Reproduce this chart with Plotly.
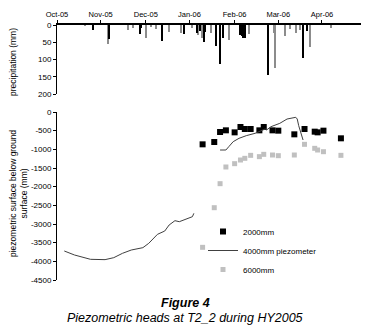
import plotly.graph_objects as go

# ---------------- data ----------------
# precipitation (mm), two gauges (black / grey bars)
precip_black_dates = ["2005-10-26", "2005-11-06", "2005-11-27", "2005-11-28", "2005-12-12",
                      "2005-12-27", "2006-01-05", "2006-01-07", "2006-01-10", "2006-01-11",
                      "2006-01-18", "2006-01-21", "2006-01-23", "2006-02-04", "2006-02-05",
                      "2006-02-06", "2006-02-07", "2006-02-23", "2006-03-19", "2006-03-22"]
precip_black_mm = [15, 41, 25, 8, 46, 27, 22, 17, 48, 19, 61, 114, 37, 29, 32, 37, 38, 144, 96, 17]

precip_grey_dates = ["2005-10-20", "2005-11-05", "2005-11-19", "2005-11-22", "2005-12-01",
                     "2005-12-05", "2005-12-08", "2005-12-17", "2005-12-25", "2006-01-02",
                     "2006-01-06", "2006-01-09", "2006-01-15", "2006-01-27", "2006-02-10",
                     "2006-02-27", "2006-02-28", "2006-03-07", "2006-03-10", "2006-03-14",
                     "2006-03-17", "2006-03-24", "2006-04-07"]
precip_grey_mm = [2, 54, 15, 9, 38, 4, 12, 19, 22, 8, 29, 37, 22, 44, 27, 22, 125, 32, 12, 22, 15, 65, 8]

# 4000mm piezometer (continuous logger, with a gap)
piezo_dates = ["2005-10-06", "2005-10-13", "2005-10-24", "2005-11-03", "2005-11-09", "2005-11-15",
               "2005-11-21", "2005-11-29", "2005-12-03", "2005-12-09", "2005-12-14", "2005-12-17",
               "2005-12-21", "2005-12-24", "2006-01-02", "2006-01-03", "2006-01-12",
               "2006-01-21", "2006-01-25", "2006-01-27", "2006-01-30", "2006-02-03", "2006-02-08",
               "2006-02-14", "2006-02-17", "2006-02-21", "2006-02-22", "2006-02-25", "2006-03-03",
               "2006-03-08", "2006-03-14", "2006-03-15", "2006-03-16", "2006-03-17", "2006-03-18",
               "2006-03-19"]
piezo_4000 = [-3723, -3830, -3946, -3955, -3902, -3785,
              -3697, -3634, -3518, -3277, -3188, -3027,
              -2911, -2938, -2804, -2714, None,
              -1018, -1018, -929, -795, -705, -634,
              -571, -527, -455, -480, -393, -304,
              -188, -142, -188, -366, -482, -616,
              -750]

# manual dip readings (2000mm and 6000mm)
dip_dates = ["2006-01-09", "2006-01-17", "2006-01-21", "2006-01-25", "2006-01-31", "2006-02-04",
             "2006-02-07", "2006-02-11", "2006-02-17", "2006-02-20", "2006-02-26", "2006-03-02",
             "2006-03-13", "2006-03-20", "2006-03-27", "2006-03-29", "2006-04-02", "2006-04-14"]
dip_2000 = [-866, -804, -536, -491, -545, -402, -455, -455, -491, -402, -491, -500,
            -598, -455, -527, -545, -500, -705]
dip_6000 = [-3625, -2563, -1920, -1473, -1384, -1286, -1241, -1161, -1196, -1134, -1152, -1170,
            -1152, -866, -973, -1018, -1063, -1161]

x_tick_dates = ["2005-10-01", "2005-10-31", "2005-12-01", "2005-12-31", "2006-01-31", "2006-03-02", "2006-04-01"]
x_tick_labels = ["Oct-05", "Nov-05", "Dec-05", "Jan-06", "Feb-06", "Mar-06", "Apr-06"]
precip_ticks = [0, 50, 100, 150, 200]
head_ticks = [0, -500, -1000, -1500, -2000, -2500, -3000, -3500, -4000, -4500]
head_tick_labels = ["0", "-500", "-1000", "-1500", "-2000", "-2500", "-3000", "-3500", "-4000", "-4500"]

# ---------------- figure ----------------
OFF = 8                      # default page margin around the plot div
W, H = 369 - OFF, 329 - OFF
FONT = "Liberation Sans, Arial, sans-serif"
DAY_MS = 86400000

def py(p):  # window pixel row -> paper y
    return 1 - (p - OFF) / H

def px(p):  # window pixel column -> paper x
    return (p - OFF) / W

fig = go.Figure()

fig.add_trace(go.Bar(x=precip_grey_dates, y=precip_grey_mm, marker=dict(color="#8c8c8c", line=dict(width=0)),
                     width=0.9 * DAY_MS, xaxis="x", yaxis="y", showlegend=False))
fig.add_trace(go.Bar(x=precip_black_dates, y=precip_black_mm, marker=dict(color="#000000", line=dict(width=0)),
                     width=0.9 * DAY_MS, xaxis="x", yaxis="y", showlegend=False))

fig.add_trace(go.Scatter(x=dip_dates, y=dip_2000, mode="markers", name="2000mm",
                         marker=dict(symbol="square", size=6, color="#000000"),
                         xaxis="x2", yaxis="y2"))
fig.add_trace(go.Scatter(x=piezo_dates, y=piezo_4000, mode="lines", name="4000mm piezometer",
                         line=dict(color="#404040", width=1), connectgaps=False,
                         xaxis="x2", yaxis="y2"))
fig.add_trace(go.Scatter(x=dip_dates, y=dip_6000, mode="markers", name="6000mm",
                         marker=dict(symbol="square", size=5, color="#c0c0c0"),
                         xaxis="x2", yaxis="y2"))

xdom = [px(57), px(361)]
xrange = ["2005-10-01", "2006-04-27 19:00"]

ann = dict(xref="paper", yref="paper", showarrow=False, xanchor="center", yanchor="middle")

fig.update_layout(
    template="none",
    width=W, height=H,
    margin=dict(l=0, r=0, t=0, b=0, pad=0, autoexpand=False),
    paper_bgcolor="white", plot_bgcolor="white",
    font=dict(family=FONT, size=8, color="black"),
    barmode="overlay", bargap=0,
    xaxis=dict(domain=xdom, range=xrange, type="date", side="top", anchor="y", automargin=False,
               showline=True, linewidth=2, linecolor="black", showgrid=False, zeroline=False,
               tickmode="array", tickvals=x_tick_dates, ticktext=x_tick_labels,
               ticks="outside", ticklen=3, tickcolor="black", tickwidth=1,
               tickfont=dict(size=7.5)),
    yaxis=dict(domain=[py(94), py(25)], range=[200, 0], anchor="x", automargin=False,
               showline=True, linewidth=1, linecolor="black", showgrid=False, zeroline=False,
               tickmode="array", tickvals=precip_ticks,
               ticks="outside", ticklen=3, tickcolor="black", tickwidth=1, tickfont=dict(size=8)),
    xaxis2=dict(domain=xdom, range=xrange, type="date", matches="x", anchor="y2", visible=False,
                automargin=False),
    yaxis2=dict(domain=[py(280), py(112)], range=[-4500, 0], anchor="x2", automargin=False,
                showline=True, linewidth=1, linecolor="black", showgrid=False, zeroline=False,
                tickmode="array", tickvals=head_ticks, ticktext=head_tick_labels,
                ticks="outside", ticklen=3, tickcolor="black", tickwidth=1, tickfont=dict(size=8)),
    legend=dict(x=px(203), y=py(217), xanchor="left", yanchor="top",
                font=dict(size=8), bgcolor="rgba(0,0,0,0)", borderwidth=0, itemwidth=30),
    annotations=[
        dict(ann, text="precipitation (mm)", x=px(13), y=py(62), textangle=-90, font=dict(size=8.5)),
        dict(ann, text="piezometric surface below ground<br>surface (mm)", x=px(19), y=py(194),
             textangle=-90, font=dict(size=8.5)),
        dict(ann, text="<b><i>Figure 4</i></b>", x=px(185), y=py(303), font=dict(size=12.5)),
        dict(ann, text="<i>Piezometric heads at T2_2 during HY2005</i>", x=px(185), y=py(318),
             font=dict(size=12.5)),
    ],
)

fig.write_html("out.html")
